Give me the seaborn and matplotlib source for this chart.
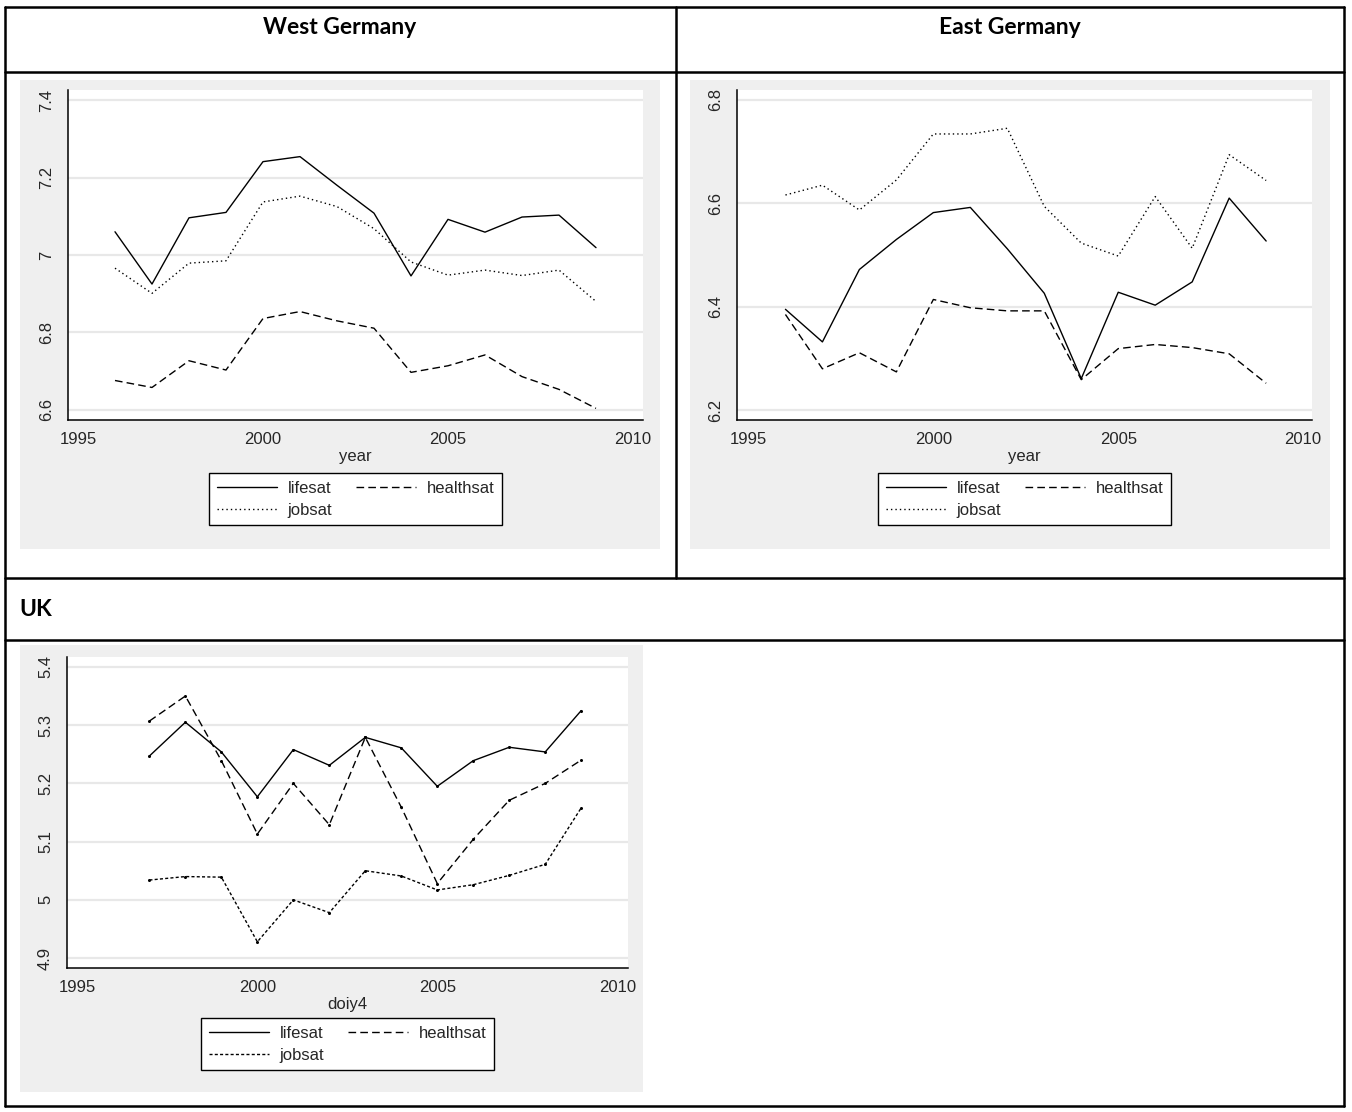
"""
plot.py
Life, health and job satisfaction over time: West Germany, East Germany, UK.
Three Stata-style panels laid out in a bordered table.
"""

import matplotlib
matplotlib.use("Agg")
import matplotlib.pyplot as plt
import seaborn as sns
from matplotlib.lines import Line2D
from matplotlib.patches import Rectangle

# ---- data ----
years_de = [1996, 1997, 1998, 1999, 2000, 2001, 2002, 2003, 2004, 2005, 2006, 2007, 2008, 2009]
west_lifesat = [7.060, 6.925, 7.096, 7.110, 7.241, 7.254, 7.180, 7.108, 6.946, 7.092, 7.059, 7.098, 7.103, 7.019]
west_healthsat = [6.676, 6.658, 6.727, 6.703, 6.836, 6.854, 6.830, 6.811, 6.697, 6.714, 6.742, 6.686, 6.653, 6.604]
west_jobsat = [6.966, 6.901, 6.979, 6.985, 7.137, 7.152, 7.125, 7.068, 6.982, 6.948, 6.961, 6.947, 6.961, 6.880]

east_lifesat = [6.395, 6.332, 6.472, 6.530, 6.582, 6.592, 6.512, 6.426, 6.261, 6.428, 6.403, 6.448, 6.610, 6.527]
east_healthsat = [6.385, 6.280, 6.311, 6.274, 6.414, 6.398, 6.392, 6.392, 6.259, 6.319, 6.327, 6.321, 6.309, 6.252]
east_jobsat = [6.616, 6.635, 6.587, 6.645, 6.734, 6.734, 6.745, 6.594, 6.523, 6.498, 6.613, 6.513, 6.694, 6.644]

years_uk = [1997, 1998, 1999, 2000, 2001, 2002, 2003, 2004, 2005, 2006, 2007, 2008, 2009]
uk_lifesat = [5.247, 5.305, 5.254, 5.177, 5.258, 5.231, 5.279, 5.261, 5.195, 5.239, 5.262, 5.254, 5.325]
uk_healthsat = [5.307, 5.350, 5.239, 5.113, 5.200, 5.129, 5.279, 5.159, 5.028, 5.104, 5.171, 5.200, 5.240]
uk_jobsat = [5.034, 5.040, 5.039, 4.928, 5.000, 4.978, 5.050, 5.041, 5.017, 5.026, 5.042, 5.061, 5.158]

x_ticks = [1995, 2000, 2005, 2010]
west_yticks = [6.6, 6.8, 7.0, 7.2, 7.4]
east_yticks = [6.2, 6.4, 6.6, 6.8]
uk_yticks = [4.9, 5.0, 5.1, 5.2, 5.3, 5.4]

W, H = 1352, 1112
PANEL_BG = "#efefef"
GRID = "#e8e8e8"
FS = 12

sns.set_style("white")
plt.rcParams["font.family"] = ["Liberation Sans", "DejaVu Sans"]


def px_rect(x0, y0, x1, y1):
    """Pixel box (top-left origin) -> figure fraction rect."""
    return [x0 / W, 1 - y1 / H, (x1 - x0) / W, (y1 - y0) / H]


def draw_panel(ax, years, life, health, job, xlabel, xlim, ylim, yticks, uk=False):
    mk = dict(marker="o", markersize=2.2, markeredgewidth=0,
              markerfacecolor="black") if uk else {}
    job_style = (0, (2.2, 1.6)) if uk else (0, (1, 2.2))
    lw = 1.0
    sns.lineplot(x=years, y=life, ax=ax, color="black", lw=lw,
                 linestyle="-", label="lifesat", **mk)
    sns.lineplot(x=years, y=health, ax=ax, color="black", lw=lw,
                 linestyle=(0, (5.5, 3)), label="healthsat", **mk)
    sns.lineplot(x=years, y=job, ax=ax, color="black", lw=lw,
                 linestyle=job_style, label="jobsat", **mk)

    ax.set_facecolor("white")
    ax.set_xlim(*xlim)
    ax.set_ylim(*ylim)
    ax.set_xticks(x_ticks)
    ax.set_yticks(yticks)
    ax.set_yticklabels([f"{v:g}" for v in yticks], rotation=90, va="center")
    ax.set_xlabel(xlabel, fontsize=FS, labelpad=1)
    ax.set_ylabel("")
    for v in yticks:
        ax.axhline(v, color=GRID, lw=1.6, zorder=0)
    ax.tick_params(axis="both", direction="out", length=5, width=1,
                   color="black", labelsize=FS)
    ax.tick_params(axis="x", pad=4)
    ax.tick_params(axis="y", pad=5)
    for side in ["top", "right"]:
        ax.spines[side].set_visible(False)
    for side in ["left", "bottom"]:
        ax.spines[side].set_color("black")
        ax.spines[side].set_linewidth(1.1)

    handles, labels = ax.get_legend_handles_labels()
    order = [labels.index("lifesat"), labels.index("jobsat"), labels.index("healthsat")]
    leg = ax.legend([handles[i] for i in order], [labels[i] for i in order],
                    ncol=2, loc="upper center", bbox_to_anchor=(0.5, -0.162),
                    borderaxespad=0, frameon=True, fancybox=False,
                    edgecolor="black", framealpha=1, fontsize=FS,
                    handlelength=3.6, handletextpad=0.65, columnspacing=1.4,
                    borderpad=0.45, labelspacing=0.4)
    leg.get_frame().set_linewidth(1.0)
    for h in leg.get_lines():
        h.set_marker("")


fig = plt.figure(figsize=(W / 100, H / 100), dpi=100)
fig.patch.set_facecolor("white")

# grey Stata graph regions
for x0, y0, x1, y1 in [(20, 80, 660, 549), (690, 80, 1330, 549), (20, 645, 643, 1092)]:
    fig.patches.append(Rectangle((x0 / W, 1 - y1 / H), (x1 - x0) / W, (y1 - y0) / H,
                                 transform=fig.transFigure, facecolor=PANEL_BG,
                                 edgecolor="none", zorder=-10))

# table borders
table_lines = [
    ([5, 1344], [7, 7]), ([5, 1344], [72, 72]), ([5, 1344], [578, 578]),
    ([5, 1344], [640, 640]), ([5, 1344], [1106, 1106]),
    ([5, 5], [7, 1106]), ([1344, 1344], [7, 1106]), ([676, 676], [7, 578]),
]
for xs, ys in table_lines:
    fig.add_artist(Line2D([x / W for x in xs], [1 - y / H for y in ys],
                          transform=fig.transFigure, color="black", lw=1.8, zorder=5))

hdr = dict(fontsize=16.5, fontweight="bold", family=["Lato", "DejaVu Sans"],
           va="center", color="black")
fig.text(340 / W, 1 - 28 / H, "West Germany", ha="center", **hdr)
fig.text(1010 / W, 1 - 28 / H, "East Germany", ha="center", **hdr)
fig.text(19 / W, 1 - 609 / H, "UK", ha="left", **hdr)

ax_w = fig.add_axes(px_rect(68, 90, 643, 420))
draw_panel(ax_w, years_de, west_lifesat, west_healthsat, west_jobsat, "year",
           (1994.73, 2010.27), (6.574, 7.426), west_yticks)

ax_e = fig.add_axes(px_rect(737, 90, 1312, 420))
draw_panel(ax_e, years_de, east_lifesat, east_healthsat, east_jobsat, "year",
           (1994.69, 2010.24), (6.181, 6.819), east_yticks)

ax_uk = fig.add_axes(px_rect(67, 657, 628, 968))
draw_panel(ax_uk, years_uk, uk_lifesat, uk_healthsat, uk_jobsat, "doiy4",
           (1994.71, 2010.3), (4.883, 5.417), uk_yticks, uk=True)

fig.savefig("out.png", dpi=100, facecolor="white")
